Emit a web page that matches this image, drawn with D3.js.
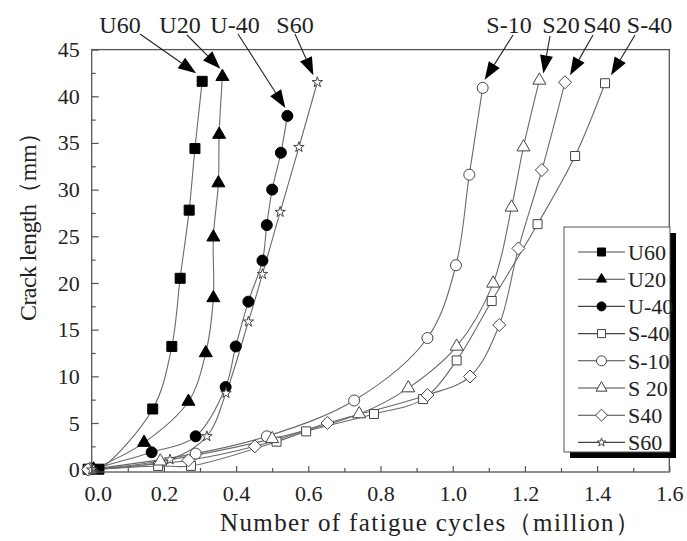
<!DOCTYPE html>
<html><head><meta charset="utf-8">
<script src="https://cdn.jsdelivr.net/npm/d3@7"></script>
<style>body{margin:0;background:#fff} svg{display:block}</style>
</head><body><svg id="c" width="687" height="541"></svg>
<script>
// ---------- data ----------
const seriesNames  = ["U60","U20","U-40","S-40","S-10","S20","S40","S60"];
const legendLabels = ["U60","U20","U-40","S-40","S-10","S 20","S40","S60"];
const xTickValues = [0,0.2,0.4,0.6,0.8,1.0,1.2,1.4,1.6];
const yTickValues = [0,5,10,15,20,25,30,35,40,45];

const U60  = [[-0.01,0.05],[0.02,0.05],[0.169,6.5],[0.222,13.2],[0.245,20.5],[0.270,27.8],[0.286,34.4],[0.306,41.6]];
const U20  = [[0.005,0.05],[0.145,2.9],[0.268,7.3],[0.316,12.5],[0.337,18.4],[0.337,24.9],[0.351,30.7],[0.353,35.9],[0.362,42.1]];
const U40m = [[0.0,0.05],[0.166,1.86],[0.288,3.57],[0.371,8.85],[0.399,13.2],[0.434,18.0],[0.473,22.4],[0.485,26.2],[0.500,30.0],[0.524,33.95],[0.542,37.9]];
const S40m = [[-0.005,0.0],[0.184,0.4],[0.275,0.4],[0.512,3.0],[0.594,4.1],[0.782,5.96],[0.918,7.56],[1.011,11.7],[1.108,18.07],[1.235,26.3],[1.339,33.6],[1.422,41.4]];
const S10m = [[-0.01,0.0],[0.288,1.72],[0.485,3.57],[0.727,7.41],[0.930,14.1],[1.009,21.9],[1.046,31.6],[1.083,40.9]];
const S20  = [[-0.005,0.0],[0.19,0.9],[0.50,3.3],[0.741,5.96],[0.877,8.74],[1.011,13.2],[1.112,19.96],[1.163,28.1],[1.196,34.55],[1.240,41.7]];
const S40  = [[-0.01,0.0],[0.268,1.0],[0.452,2.5],[0.653,5.0],[0.930,8.0],[1.048,9.98],[1.129,15.5],[1.182,23.7],[1.247,32.1],[1.311,41.5]];
const S60  = [[0.0,0.0],[0.217,1.08],[0.319,3.57],[0.372,8.2],[0.434,15.85],[0.473,20.95],[0.522,27.6],[0.574,34.55],[0.625,41.5]];

const seriesData = [U60,U20,U40m,S40m,S10m,S20,S40,S60];

// ---------- styles ----------
const markerType = ["square","triangle","circle","square","circle","triangle","diamond","star"];
const markerFill = [true,true,true,false,false,false,false,false];
const markerSize = [10,13,11,9,11,13,13,11];
const legendSize = [8,10,9,8,10,11,12,9];

// ---------- layout ----------
const svg = d3.select("#c");
const L = 91.7, R = 669.3, T = 49.6, B = 472;
const x = d3.scaleLinear().domain([0,1.6]).range([L,R]);
const y = d3.scaleLinear().domain([-0.25,45]).range([B,T]);
const font = "'Liberation Serif','Times New Roman',serif";
const txt = "#222", axisCol = "#555", lineCol = "#6a6a6a";

function markerPath(type, s){
  if(type==="square") return `M${-s/2},${-s/2}h${s}v${s}h${-s}Z`;
  if(type==="circle") return d3.symbol(d3.symbolCircle, Math.PI*(s/2)*(s/2))();
  if(type==="triangle"){ const h=s*0.866; return `M0,${-2*h/3}L${s/2},${h/3}L${-s/2},${h/3}Z`; }
  if(type==="diamond") return `M0,${-s/2}L${s/2},0L0,${s/2}L${-s/2},0Z`;
  if(type==="star") return d3.symbol(d3.symbolStar, (s/2)*(s/2)/0.8908)();
}

// curves
const line = d3.line().x(d=>x(d[0])).y(d=>y(d[1])).curve(d3.curveCatmullRom.alpha(0.5));
seriesData.forEach((d,i)=>{
  svg.append("path").attr("d",line(d)).attr("fill","none")
    .attr("stroke",lineCol).attr("stroke-width",1.1);
});
// markers
seriesData.forEach((d,i)=>{
  svg.append("g").selectAll("path").data(d).join("path")
    .attr("transform",p=>`translate(${x(p[0])},${y(p[1])})`)
    .attr("d",markerPath(markerType[i],markerSize[i]))
    .attr("fill",markerFill[i]?"#000":"#fff")
    .attr("stroke",markerFill[i]?"#000":"#444")
    .attr("stroke-width",1);
});

// frame
svg.append("rect").attr("x",L).attr("y",T).attr("width",R-L).attr("height",B-T)
  .attr("fill","none").attr("stroke",axisCol).attr("stroke-width",1.3);

// x axis
const gx = svg.append("g").attr("transform",`translate(0,${B})`)
  .call(d3.axisBottom(x).tickValues(xTickValues).tickSize(-6).tickSizeOuter(0).tickPadding(13).tickFormat(d3.format(".1f")));
gx.select(".domain").remove();
gx.selectAll("line").attr("stroke",axisCol).attr("stroke-width",1.2);
gx.selectAll("text").attr("font-family",font).attr("font-size",22).attr("fill",txt);
gx.selectAll(".tick").filter(d=>d===0).select("text").attr("x",6);
svg.append("g").attr("transform",`translate(0,${B})`)
  .call(d3.axisBottom(x).tickValues(d3.range(0.1,1.6,0.2)).tickSize(-4).tickSizeOuter(0).tickFormat(""))
  .call(g=>{g.select(".domain").remove(); g.selectAll("line").attr("stroke",axisCol).attr("stroke-width",1.2);});

// y axis
const gy = svg.append("g").attr("transform",`translate(${L},0)`)
  .call(d3.axisLeft(y).tickValues(yTickValues).tickSize(-7).tickSizeOuter(0).tickPadding(12));
gy.select(".domain").remove();
gy.selectAll("line").attr("stroke",axisCol).attr("stroke-width",1.2);
gy.selectAll("text").attr("font-family",font).attr("font-size",22).attr("fill",txt);
svg.append("g").attr("transform",`translate(${L},0)`)
  .call(d3.axisLeft(y).tickValues(d3.range(2.5,45,5)).tickSize(-4).tickSizeOuter(0).tickFormat(""))
  .call(g=>{g.select(".domain").remove(); g.selectAll("line").attr("stroke",axisCol).attr("stroke-width",1.2);});

// axis titles
svg.append("text").attr("x",220).attr("y",531).attr("font-family",font).attr("font-size",25)
  .attr("fill",txt).attr("textLength",420).text("Number of fatigue cycles（million）");
svg.append("text").attr("transform","translate(36,321) rotate(-90)").attr("font-family",font)
  .attr("font-size",24).attr("fill",txt).attr("textLength",200).text("Crack length（mm）");

// annotations: label x, arrow start, tip offset from last point
const annot = [
  {i:0, lx:120, sx:140, sy:34, dx:-6, dy:-8},
  {i:1, lx:180, sx:187, sy:35, dx:-2, dy:-8},
  {i:2, lx:235, sx:238, sy:34, dx:-2, dy:-8},
  {i:7, lx:295, sx:295, sy:34, dx:-4, dy:-7},
  {i:4, lx:509, sx:513, sy:35, dx:2, dy:-8},
  {i:5, lx:561, sx:550, sy:36, dx:4, dy:-7},
  {i:6, lx:602, sx:593, sy:35, dx:5, dy:-7},
  {i:3, lx:649.5, sx:635, sy:35, dx:6, dy:-8},
];
annot.forEach(a=>{
  const d = seriesData[a.i], last = d[d.length-1];
  const tx = x(last[0])+a.dx, ty = y(last[1])+a.dy;
  const vx = tx-a.sx, vy = ty-a.sy, len = Math.hypot(vx,vy), ux=vx/len, uy=vy/len;
  const hl = 18, hw = 6.5;
  const bx = tx-ux*hl, by = ty-uy*hl;
  svg.append("line").attr("x1",a.sx).attr("y1",a.sy).attr("x2",bx).attr("y2",by)
    .attr("stroke","#222").attr("stroke-width",1.1);
  svg.append("path").attr("d",`M${tx},${ty}L${bx-uy*hw},${by+ux*hw}L${bx+uy*hw},${by-ux*hw}Z`).attr("fill","#000");
  svg.append("text").attr("x",a.lx).attr("y",33).attr("text-anchor","middle")
    .attr("font-family",font).attr("font-size",24).attr("fill",txt).text(seriesNames[a.i]);
});

// legend
const lg = {x:564, y:227, w:106, h:225, sh:6};
svg.append("rect").attr("x",lg.x+lg.sh).attr("y",lg.y+lg.sh).attr("width",lg.w).attr("height",lg.h).attr("fill","#000");
svg.append("rect").attr("x",lg.x).attr("y",lg.y).attr("width",lg.w).attr("height",lg.h)
  .attr("fill","#fff").attr("stroke",axisCol).attr("stroke-width",1);
legendLabels.forEach((lab,i)=>{
  const cy = 252 + i*27.2;
  svg.append("line").attr("x1",578).attr("x2",625).attr("y1",cy).attr("y2",cy)
    .attr("stroke","#444").attr("stroke-width",1.1);
  svg.append("path").attr("transform",`translate(601.5,${cy})`)
    .attr("d",markerPath(markerType[i],legendSize[i]))
    .attr("fill",markerFill[i]?"#000":"#fff").attr("stroke",markerFill[i]?"#000":"#444");
  svg.append("text").attr("x",628).attr("y",cy).attr("dy","0.35em")
    .attr("font-family",font).attr("font-size",22).attr("fill",txt).text(lab);
});
</script></body></html>
